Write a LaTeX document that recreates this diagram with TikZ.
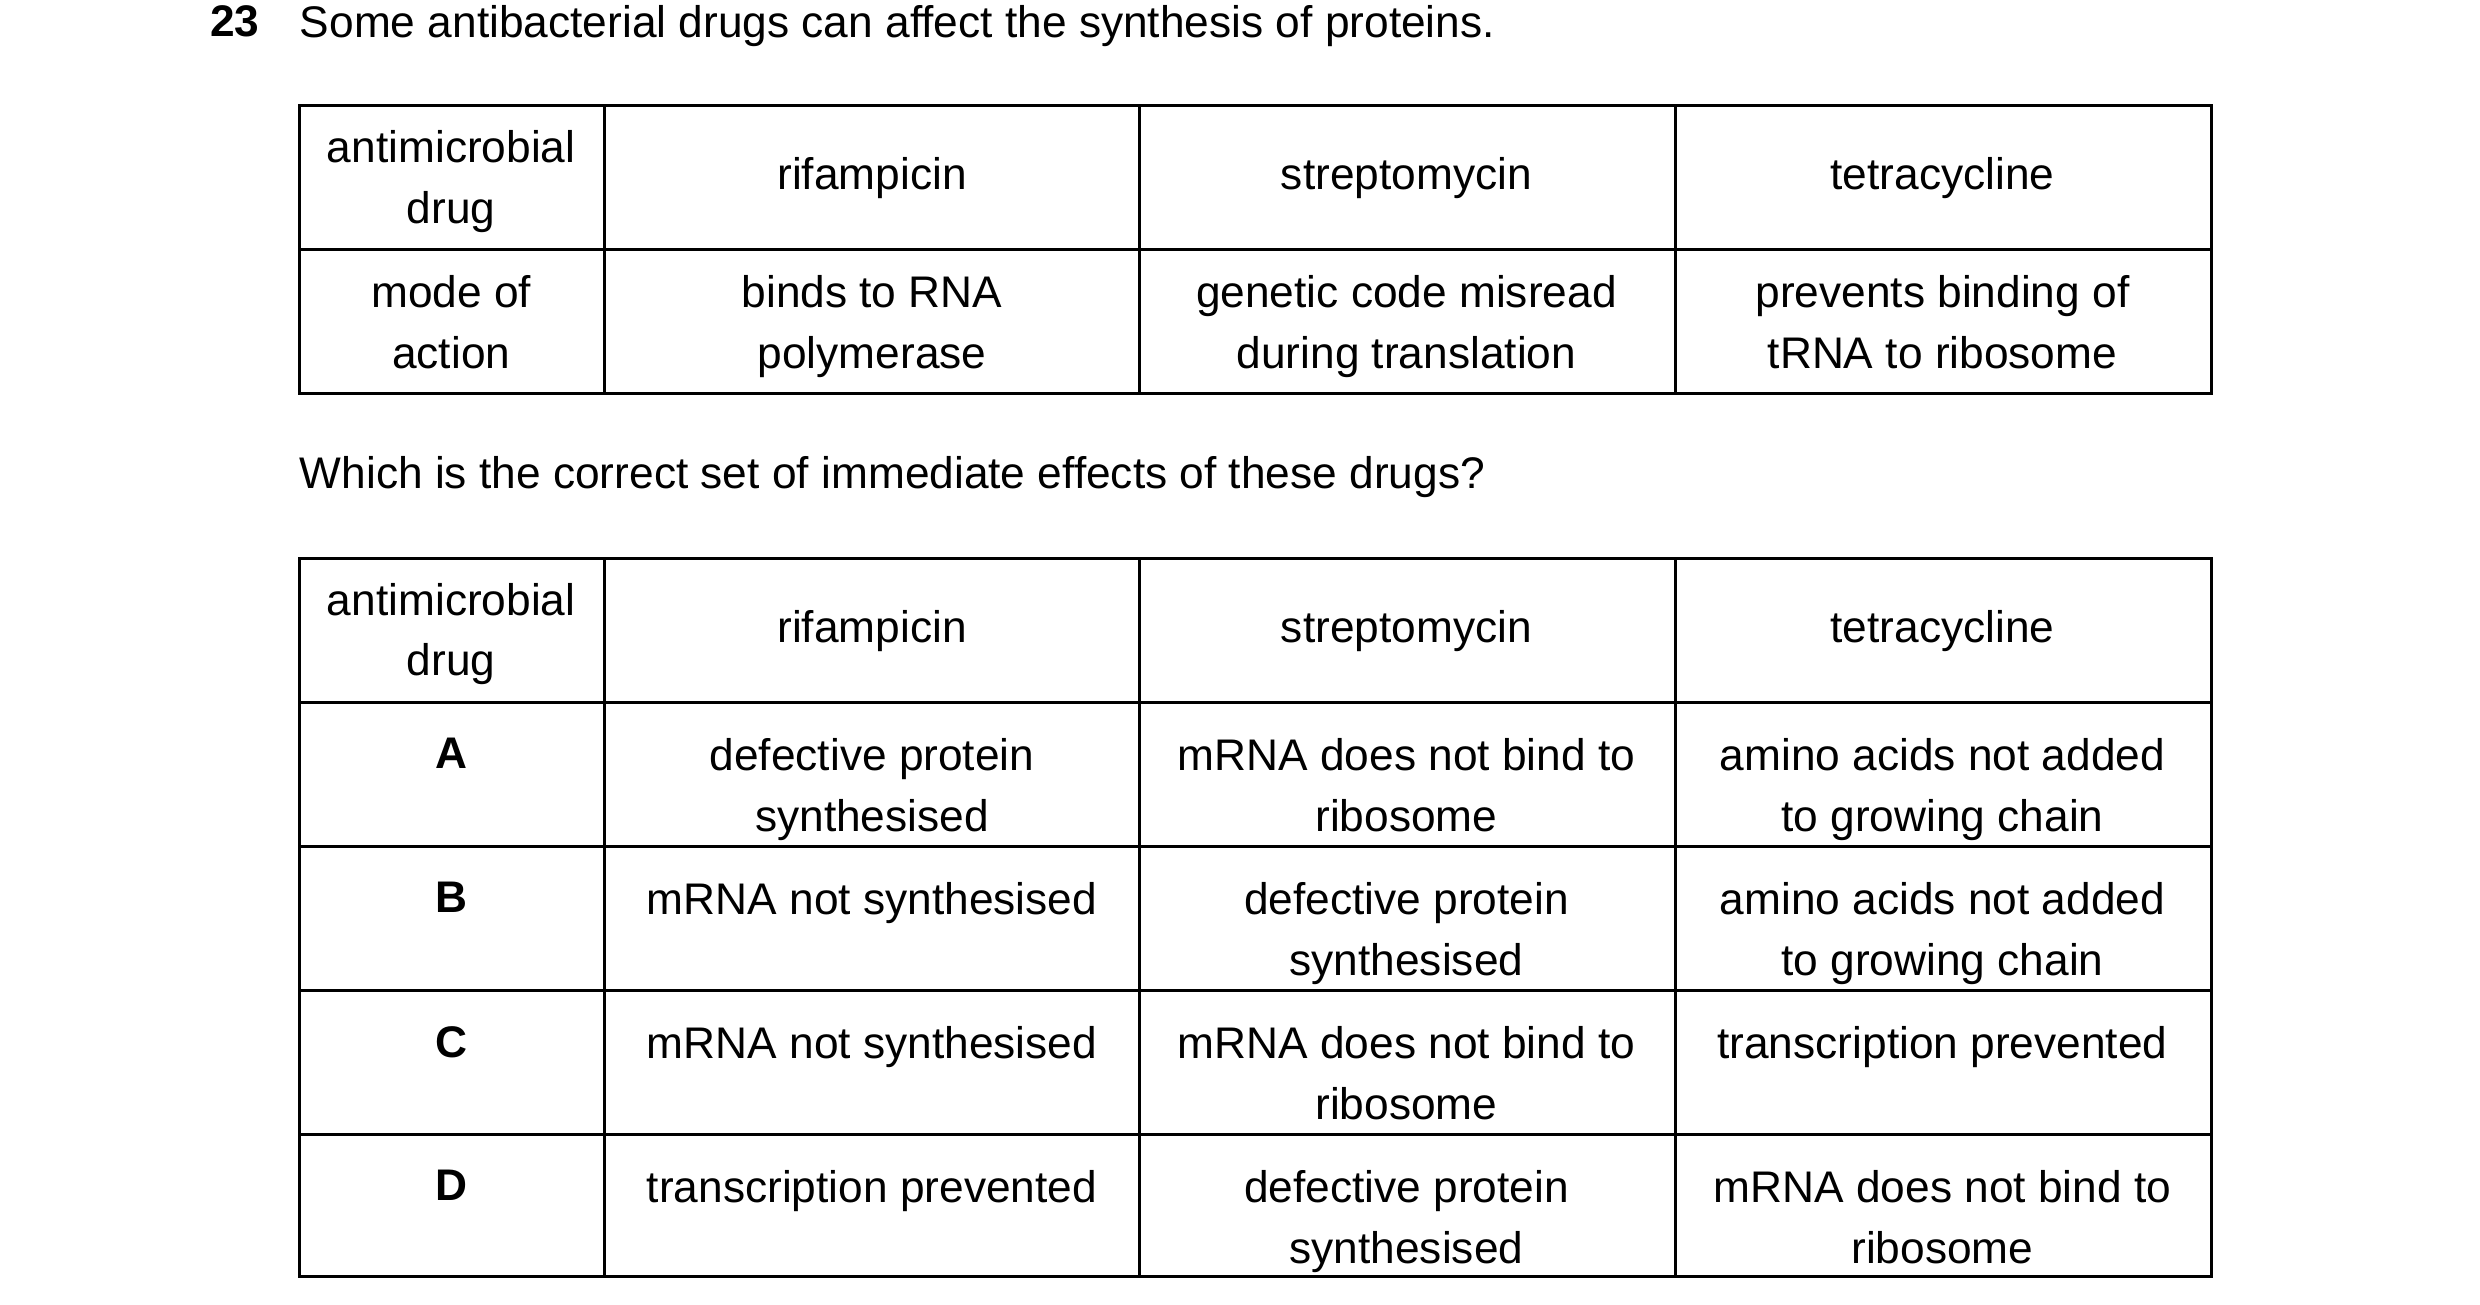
\documentclass[tikz,border=0pt]{standalone}
\usepackage{fontspec}
\setmainfont{Liberation Sans}
\usetikzlibrary{positioning}

\begin{document}
\begin{tikzpicture}[x=0.016cm,y=-0.016cm,
  cell/.style={anchor=north,inner sep=0pt,align=center,font=\fontsize{12.6}{17.3}\selectfont},
  plain/.style={anchor=north west,inner sep=0pt,font=\fontsize{12.6}{17.3}\selectfont},
  rule/.style={line width=0.9pt}]
\useasboundingbox (0,0) rectangle (1550,815);
\node[plain,font=\fontsize{12.6}{17.3}\selectfont\bfseries] (qnum) at (131,3) {23};
\node[plain] (qtext) at (187,3) {Some antibacterial drugs can affect the synthesis of proteins.};
% first table
\draw[rule] (187,66) rectangle (1382,246);
\draw[rule] (187,156) -- (1382,156);
\foreach \x in {378,712,1047}
  \draw[rule] (\x,66) -- (\x,246);
\node[cell] (hdrA) at (282,81) {antimicrobial\\drug};
\node[cell] (rifA) at (545,98) {rifampicin};
\node[cell] (strA) at (879,98) {streptomycin};
\node[cell] (tetA) at (1214,98) {tetracycline};
\node[cell] (mode) at (282,172) {mode of\\action};
\node[cell] (rifmode) at (545,172) {binds to RNA\\polymerase};
\node[cell] (strmode) at (879,172) {genetic code misread\\during translation};
\node[cell] (tetmode) at (1214,172) {prevents binding of\\tRNA to ribosome};
\node[plain] (which) at (187,285) {Which is the correct set of immediate effects of these drugs?};
% second table
\draw[rule] (187,349) rectangle (1382,798);
\foreach \y in {439,529,619,709}
  \draw[rule] (187,\y) -- (1382,\y);
\foreach \x in {378,712,1047}
  \draw[rule] (\x,349) -- (\x,798);
\node[cell] (hdrB) at (282,364) {antimicrobial\\drug};
\node[cell] (rifB) at (545,381) {rifampicin};
\node[cell] (strB) at (879,381) {streptomycin};
\node[cell] (tetB) at (1214,381) {tetracycline};
\node[cell,font=\fontsize{12.6}{17.3}\selectfont\bfseries] (optA) at (282,461) {A};
\node[cell] (rifOA) at (545,461) {defective protein\\synthesised};
\node[cell] (strOA) at (879,461) {mRNA does not bind to\\ribosome};
\node[cell] (tetOA) at (1214,461) {amino acids not added\\to growing chain};
\node[cell,font=\fontsize{12.6}{17.3}\selectfont\bfseries] (optB) at (282,551) {B};
\node[cell] (rifOB) at (545,551) {mRNA not synthesised};
\node[cell] (strOB) at (879,551) {defective protein\\synthesised};
\node[cell] (tetOB) at (1214,551) {amino acids not added\\to growing chain};
\node[cell,font=\fontsize{12.6}{17.3}\selectfont\bfseries] (optC) at (282,641) {C};
\node[cell] (rifOC) at (545,641) {mRNA not synthesised};
\node[cell] (strOC) at (879,641) {mRNA does not bind to\\ribosome};
\node[cell] (tetOC) at (1214,641) {transcription prevented};
\node[cell,font=\fontsize{12.6}{17.3}\selectfont\bfseries] (optD) at (282,731) {D};
\node[cell] (rifOD) at (545,731) {transcription prevented};
\node[cell] (strOD) at (879,731) {defective protein\\synthesised};
\node[cell] (tetOD) at (1214,731) {mRNA does not bind to\\ribosome};
\end{tikzpicture}
\end{document}
